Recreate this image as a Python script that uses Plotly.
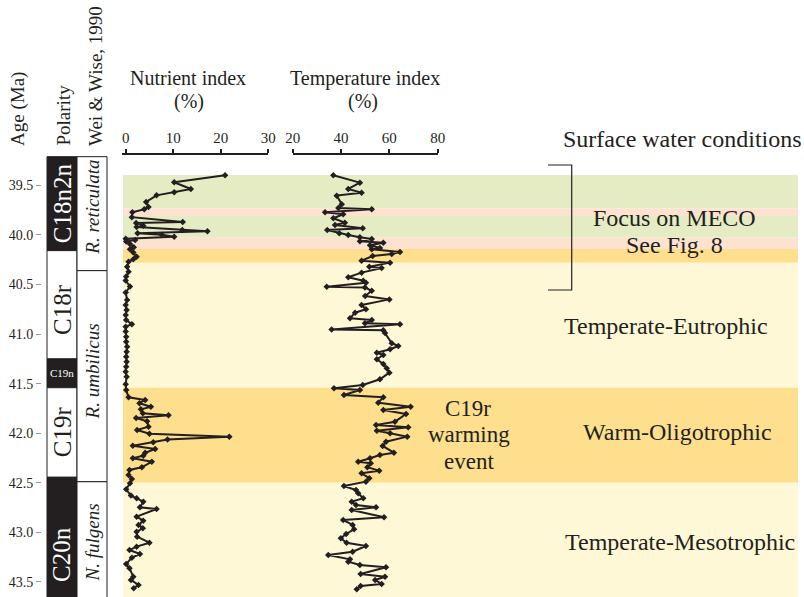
import plotly.graph_objects as go

# ---------------------------------------------------------------- data
# Nutrient index (%) against age (Ma)
nut_age = [39.398, 39.468, 39.536, 39.569, 39.600, 39.667, 39.717, 39.740, 39.770, 39.820,
           39.869, 39.880, 39.906, 39.920, 39.950, 39.963, 39.983, 39.997, 40.017, 40.037,
           40.050, 40.067, 40.090, 40.124, 40.144, 40.178, 40.219, 40.245, 40.269, 40.320,
           40.370, 40.420, 40.460, 40.520, 40.580, 40.656, 40.706, 40.757, 40.807, 40.858,
           40.901, 40.925, 40.975, 41.026, 41.077, 41.127, 41.178, 41.228, 41.279, 41.329,
           41.379, 41.430, 41.507, 41.564, 41.638, 41.665, 41.698, 41.733, 41.759, 41.800,
           41.820, 41.847, 41.880, 41.934, 41.968, 42.005, 42.035, 42.065, 42.092, 42.126,
           42.159, 42.197, 42.227, 42.253, 42.288, 42.344, 42.371, 42.422, 42.462, 42.506,
           42.566, 42.630, 42.657, 42.691, 42.748, 42.765, 42.842, 42.883, 42.926, 42.960,
           42.994, 43.044, 43.105, 43.145, 43.179, 43.219, 43.256, 43.320, 43.363, 43.448,
           43.481, 43.532, 43.565]
nut_val = [20.9, 10.2, 13.7, 10.2, 6.5, 4.3, 4.8, 3.9, 1.4, 1.3,
           12.0, 2.2, 3.7, 2.3, 11.9, 17.2, 2.5, 7.6, 10.2, 0.0,
           2.0, 0.1, 0.9, 1.7, 0.9, 1.6, 2.3, 1.6, 0.6, 0.3,
           0.6, 0.1, 0.0, 0.9, 0.0, 0.3, 0.0, 0.2, 0.0, 0.1,
           1.3, 0.0, 0.0, 0.1, 0.1, 0.3, 0.2, 0.1, 0.2, 0.1,
           0.0, 0.2, 0.0, 0.1, 0.6, 4.1, 2.9, 5.3, 3.2, 3.6,
           9.0, 2.2, 4.5, 4.8, 2.4, 5.0, 21.8, 8.8, 5.8, 1.5,
           6.2, 4.1, 3.7, 1.5, 5.5, 3.4, 0.8, 0.6, 1.3, 0.9,
           0.1, 1.1, 2.3, 3.7, 3.0, 6.5, 2.3, 3.7, 2.7, 3.6,
           2.3, 2.4, 5.0, 2.3, 0.8, 3.0, 1.3, 0.1, 0.8, 1.6,
           1.1, 2.7, 1.7]

# Temperature index (%) against age (Ma)
temp_age = [39.398, 39.472, 39.536, 39.573, 39.603, 39.690, 39.728, 39.741, 39.771, 39.791,
            39.831, 39.876, 39.899, 39.932, 39.950, 39.983, 40.000, 40.023, 40.040, 40.064,
            40.078, 40.104, 40.131, 40.144, 40.172, 40.192, 40.212, 40.259, 40.279, 40.320,
            40.333, 40.380, 40.427, 40.461, 40.481, 40.522, 40.530, 40.562, 40.616, 40.650,
            40.706, 40.750, 40.784, 40.841, 40.858, 40.891, 40.901, 40.955, 40.962, 40.990,
            41.093, 41.120, 41.153, 41.188, 41.211, 41.254, 41.302, 41.345, 41.389, 41.456,
            41.514, 41.547, 41.564, 41.615, 41.638, 41.692, 41.733, 41.766, 41.806, 41.884,
            41.917, 41.941, 41.975, 42.001, 42.035, 42.086, 42.129, 42.197, 42.220, 42.253,
            42.288, 42.304, 42.344, 42.378, 42.405, 42.455, 42.489, 42.533, 42.573, 42.607,
            42.657, 42.691, 42.725, 42.748, 42.775, 42.849, 42.876, 42.926, 42.970, 43.017,
            43.061, 43.105, 43.138, 43.196, 43.229, 43.273, 43.297, 43.330, 43.353, 43.421,
            43.448, 43.481, 43.522, 43.542, 43.575]
temp_val = [36.8, 47.8, 43.0, 48.5, 38.2, 40.3, 38.9, 52.7, 33.4, 40.9,
            36.8, 41.6, 37.5, 49.0, 34.3, 39.3, 43.0, 47.8, 52.7, 47.8,
            57.5, 52.0, 56.1, 52.7, 64.4, 61.0, 53.1, 48.5, 60.3, 51.7,
            56.8, 48.5, 43.0, 49.2, 50.3, 34.1, 49.9, 52.7, 50.0, 60.0,
            48.5, 50.3, 45.8, 43.7, 52.7, 49.9, 64.4, 36.1, 57.5, 58.2,
            61.0, 63.7, 60.3, 54.8, 57.5, 54.8, 57.5, 58.9, 60.0, 56.1,
            49.0, 37.1, 47.8, 41.2, 57.5, 55.4, 68.8, 57.5, 66.9, 62.3,
            54.5, 67.8, 54.8, 60.3, 67.4, 58.6, 57.2, 61.9, 56.1, 52.0,
            47.1, 52.3, 50.9, 55.8, 48.5, 51.7, 50.3, 41.2, 46.2, 47.1,
            49.2, 44.4, 46.2, 54.5, 44.4, 57.8, 40.9, 44.8, 45.4, 42.1,
            39.9, 42.3, 50.3, 44.8, 34.7, 43.7, 43.0, 47.8, 58.6, 48.1,
            58.2, 54.1, 56.8, 48.1, 46.5]

# Surface water condition intervals (top age, base age, colour)
band_top = [39.395, 39.731, 39.808, 40.027, 40.141, 40.280, 41.541, 42.500]
band_base = [39.731, 39.808, 40.027, 40.141, 40.280, 41.541, 42.500, 43.700]
band_color = ["#E5ECC4", "#FDE3CF", "#E5ECC4", "#FDE3CF", "#FEDF8E", "#FFF8D6", "#FEDF8E", "#FFF8D6"]

# Magnetic polarity chrons
chron_name = ["C18n2n", "C18r", "C19n", "C19r", "C20n"]
chron_top = [39.21, 40.158, 41.251, 41.541, 42.445]
chron_base = [40.158, 41.251, 41.541, 42.445, 43.700]
chron_normal = [True, False, True, False, True]
chron_label_age = [39.68, 40.757, 41.396, 41.99, 43.229]

# Calcareous nannofossil biozones (Wei & Wise, 1990)
zone_name = ["R. reticulata", "R. umbilicus", "N. fulgens"]
zone_top = [39.21, 40.36, 42.49]
zone_base = [40.36, 42.49, 43.70]
zone_label_age = [39.72, 41.382, 43.108]

age_ticks = [39.5, 40.0, 40.5, 41.0, 41.5, 42.0, 42.5, 43.0, 43.5]
nut_ticks = [0, 10, 20, 30]
temp_ticks = [20, 40, 60, 80]

# ---------------------------------------------------------------- layout helpers
W, H = 804, 597
AGE_RANGE = [43.653, 39.193]
FONT = "Liberation Serif"
INK = "#231F20"


def fx(px):
    return px / W


def fy(py):
    return 1 - py / H


fig = go.Figure()

fig.add_trace(go.Scatter(
    x=nut_val, y=nut_age, mode="lines+markers", xaxis="x", yaxis="y",
    line=dict(color=INK, width=2), marker=dict(symbol="diamond", size=5, color=INK),
    showlegend=False, hoverinfo="skip"))

fig.add_trace(go.Scatter(
    x=temp_val, y=temp_age, mode="lines+markers", xaxis="x2", yaxis="y",
    line=dict(color=INK, width=2), marker=dict(symbol="diamond", size=5, color=INK),
    showlegend=False, hoverinfo="skip"))

shapes = []
# coloured surface-water bands behind the curves
for t, b, c in zip(band_top, band_base, band_color):
    shapes.append(dict(type="rect", xref="paper", yref="y", x0=fx(123), x1=fx(798),
                       y0=t, y1=b, fillcolor=c, line=dict(width=0), layer="below"))

annotations = []
# polarity column
for name, t, b, normal, la in zip(chron_name, chron_top, chron_base, chron_normal, chron_label_age):
    shapes.append(dict(type="rect", xref="paper", yref="y", x0=fx(47), x1=fx(77), y0=t, y1=b,
                       fillcolor=INK if normal else "white", line=dict(color=INK, width=1)))
    small = name == "C19n"
    annotations.append(dict(
        text=name, xref="paper", yref="y", x=fx(62), y=la, showarrow=False,
        textangle=0 if small else -90, xanchor="center", yanchor="middle",
        font=dict(family=FONT, size=11 if small else 25, color="white" if normal else INK)))

# biozone column
for name, t, b, la in zip(zone_name, zone_top, zone_base, zone_label_age):
    shapes.append(dict(type="rect", xref="paper", yref="y", x0=fx(77), x1=fx(107), y0=t, y1=b,
                       fillcolor="white", line=dict(color=INK, width=1)))
    annotations.append(dict(
        text="<i>%s</i>" % name, xref="paper", yref="y", x=fx(92.5), y=la, showarrow=False,
        textangle=-90, xanchor="center", yanchor="middle",
        font=dict(family=FONT, size=19, color=INK)))

# bracket marking the MECO interval
shapes.append(dict(type="path", xref="paper", yref="y",
                   path="M %f,39.294 L %f,39.294 L %f,40.555 L %f,40.555"
                        % (fx(548), fx(571.7), fx(571.7), fx(548)),
                   line=dict(color=INK, width=1.2)))


def add_text(text, x, y, size, angle=0, xanchor="center", yanchor="middle"):
    annotations.append(dict(text=text, xref="paper", yref="paper", x=fx(x), y=fy(y),
                            showarrow=False, textangle=angle, xanchor=xanchor, yanchor=yanchor,
                            font=dict(family=FONT, size=size, color=INK)))


add_text("Age (Ma)", 18, 148, 19, angle=-90, yanchor="bottom")
add_text("Polarity", 63, 148, 19, angle=-90, yanchor="bottom")
add_text("Wei &amp; Wise, 1990", 95, 148, 19, angle=-90, yanchor="bottom")
add_text("Nutrient index", 188, 78, 20)
add_text("(%)", 189, 102, 20)
add_text("Temperature index", 365, 78, 20)
add_text("(%)", 363, 102, 20)
add_text("Surface water conditions", 682, 139, 24)
add_text("Focus on MECO", 674, 218, 24)
add_text("See Fig. 8", 674, 245, 24)
add_text("Temperate-Eutrophic", 666, 326, 24)
add_text("C19r", 468, 408, 23)
add_text("warming", 469, 434, 23)
add_text("event", 469, 461, 23)
add_text("Warm-Oligotrophic", 677, 432, 24)
add_text("Temperate-Mesotrophic", 680, 542, 24)

y_domain = [0, fy(155)]
common_y = dict(range=AGE_RANGE, autorange=False, domain=y_domain, showgrid=False,
                zeroline=False, tickvals=age_ticks, fixedrange=True, automargin=False)
top_x = dict(side="top", anchor="y", showline=True, linecolor=INK, linewidth=2,
             ticks="outside", ticklen=4, tickwidth=2, tickcolor=INK, showgrid=False,
             zeroline=False, automargin=False, tickfont=dict(family=FONT, size=15, color=INK))

fig.update_layout(
    template="none",
    width=W, height=H,
    margin=dict(l=0, r=0, t=0, b=0, pad=0, autoexpand=False),
    paper_bgcolor="white", plot_bgcolor="rgba(0,0,0,0)",
    showlegend=False,
    xaxis=dict(domain=[fx(121.7), fx(268.3)], range=[-0.84, 30], tickvals=nut_ticks, **top_x),
    xaxis2=dict(domain=[fx(292.7), fx(437.7)], range=[20, 80], tickvals=temp_ticks, **top_x),
    yaxis=dict(anchor="free", position=fx(41), showline=False, ticks="outside", ticklen=5,
               tickcolor="#999999", ticktext=["%.1f" % v for v in age_ticks],
               tickfont=dict(family=FONT, size=14, color=INK), **common_y),
    yaxis2=dict(overlaying="y", anchor="free", position=fx(125.3), showline=True,
                linecolor="#9A9A9A", linewidth=1.5, ticks="outside", ticklen=3,
                tickcolor="#9A9A9A", showticklabels=False, **common_y),
    yaxis3=dict(overlaying="y", anchor="free", position=fx(292.7), showline=True,
                linecolor="#9A9A9A", linewidth=1.5, ticks="outside", ticklen=3,
                tickcolor="#9A9A9A", showticklabels=False, **common_y),
    shapes=shapes,
    annotations=annotations,
)

fig.write_html("out.html")
